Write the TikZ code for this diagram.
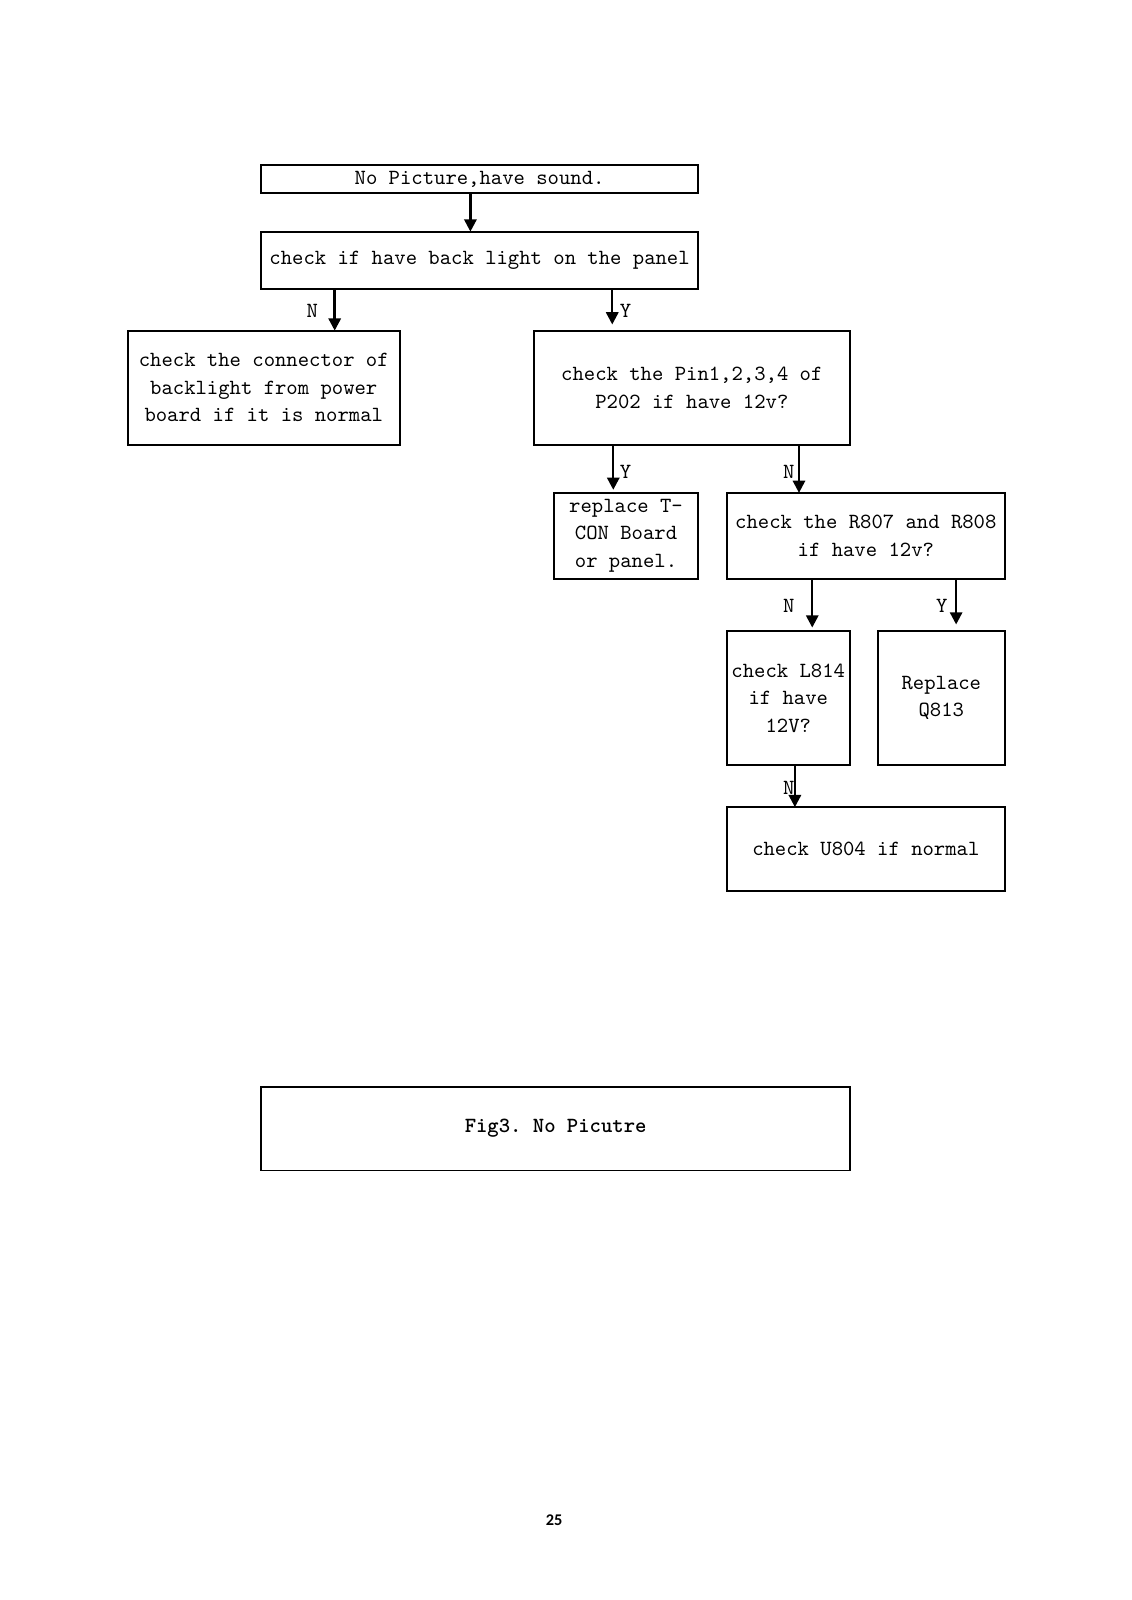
\documentclass[tikz,border=0pt]{standalone}
\usepackage{fontspec}
\usetikzlibrary{arrows.meta}
\newfontfamily\pagenumfont{Carlito}

\tikzset{
	box/.style={draw, line width=1pt, inner sep=0pt, outer sep=0pt, align=center,
		font=\ttfamily\fontsize{10.6}{13.5}\selectfont},
	flow/.style={-{Triangle[length=6pt,width=6pt]}, line width=1.2pt},
	yn/.style={inner sep=0pt, font=\ttfamily\fontsize{10.6}{13.5}\selectfont},
}

\begin{document}
\begin{tikzpicture}[x=0.5pt,y=-0.5pt]
	\useasboundingbox (0,0) rectangle (1109,1568);
	% boxes
	\node[box, line width=0.8pt, minimum width=214pt, minimum height=13.5pt] (nopic) at (470,175.5) {No Picture,have sound.};
	\node[box, minimum width=214pt, minimum height=28pt] (light) at (470,255) {check if have back light on the panel};
	\node[box, minimum width=133.5pt, minimum height=56pt] (conn) at (258.5,380) {check the connector of\\backlight from power\\board if it is normal};
	\node[box, minimum width=155pt, minimum height=56pt] (pin) at (678,380) {check the Pin1,2,3,4 of\\P202 if have 12v?};
	\node[box, minimum width=70.5pt, minimum height=42pt] (tcon) at (613.5,525) {replace T-\\CON Board\\or panel.};
	\node[box, minimum width=136.5pt, minimum height=42pt] (rcheck) at (848.5,525) {check the R807 and R808\\if have 12v?};
	\node[box, minimum width=60.5pt, minimum height=66pt] (lcheck) at (772.5,684) {check L814\\if have\\12V?};
	\node[box, minimum width=62.5pt, minimum height=66pt] (qrep) at (922.5,684) {Replace\\Q813};
	\node[box, minimum width=136.5pt, minimum height=41pt] (ucheck) at (848.5,832) {check U804 if normal};
	\node[box, line width=0.8pt, minimum width=288.5pt, minimum height=41pt, font=\ttfamily\bfseries\fontsize{10.6}{13.5}\selectfont] (fig) at (544.5,1106) {Fig3.\ No Picutre};

	% connectors
	\draw[flow] ([xshift=102.5pt]nopic.south west) -- ([xshift=102.5pt]light.north west);
	\draw[flow] ([xshift=36pt]light.south west) -- ([xshift=101.5pt]conn.north west);
	\draw[flow, shorten >=3pt] ([xshift=172pt]light.south west) -- ([xshift=38.5pt]pin.north west);
	\draw[flow, shorten >=1.5pt] ([xshift=39pt]pin.south west) -- ([xshift=29pt]tcon.north west);
	\draw[flow] ([xshift=130pt]pin.south west) -- ([xshift=35.5pt]rcheck.north west);
	\draw[flow, shorten >=1.5pt] ([xshift=42pt]rcheck.south west) -- ([xshift=42pt]lcheck.north west);
	\draw[flow, shorten >=3pt] ([xshift=112.5pt]rcheck.south west) -- ([xshift=38.5pt]qrep.north west);
	\draw[flow] ([xshift=33.5pt]lcheck.south west) -- ([xshift=33.5pt]ucheck.north west);

	% Y / N labels
	\node[yn] (n1) at (306,305) {N};
	\node[yn] (y1) at (613,305) {Y};
	\node[yn] (y2) at (613,462) {Y};
	\node[yn] (n2) at (773,462) {N};
	\node[yn] (n3) at (773,594) {N};
	\node[yn] (y3) at (923,594) {Y};
	\node[yn] (n4) at (773,772) {N};

	% page number
	\node[inner sep=0pt, font=\pagenumfont\bfseries\fontsize{8}{10}\selectfont] (pagenum) at (543,1490) {25};
\end{tikzpicture}
\end{document}
